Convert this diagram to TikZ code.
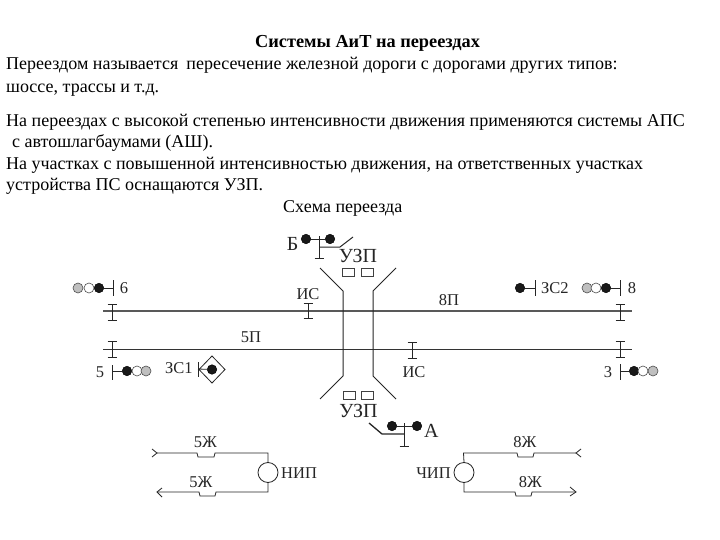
\documentclass[tikz,border=0pt]{standalone}
\usepackage{fontspec}
\setmainfont{Liberation Serif}
\usetikzlibrary{arrows.meta}
\tikzset{
  px/.style={x=1pt,y=-1pt},
  txt/.style={inner sep=0pt,anchor=base west,font=\fontsize{18pt}{20pt}\selectfont,text=black},
  lbl/.style={inner sep=0pt,anchor=base,font=\fontsize{16.5pt}{18pt}\selectfont,text=black!85},
  biglbl/.style={inner sep=0pt,anchor=base,font=\fontsize{20pt}{22pt}\selectfont,text=black!85},
  wire/.style={draw=black!85,line width=0.8pt},
  thick wire/.style={draw=black!85,line width=1pt},
  track/.style={draw=black!65,line width=1.1pt},
  lampk/.style={circle,draw=black,fill=black!90,minimum size=9.5pt,inner sep=0pt,line width=0.5pt},
  lampw/.style={circle,draw=black!70,fill=white,minimum size=10pt,inner sep=0pt,line width=0.6pt},
  lampg/.style={circle,draw=black!70,fill=black!25,minimum size=10pt,inner sep=0pt,line width=0.6pt},
  relayc/.style={circle,draw=black!85,fill=white,minimum size=20pt,inner sep=0pt,line width=0.8pt},
  box/.style={draw=black!75,fill=white,minimum width=12pt,minimum height=8pt,inner sep=0pt,line width=0.7pt},
}
\begin{document}
\begin{tikzpicture}[px]
\useasboundingbox (0,0) rectangle (720,540);
\fill[white] (0,0) rectangle (720,540);
% Title and body text
\node[txt,font=\fontsize{18.3pt}{20pt}\selectfont\bfseries] (t0) at (255,47.5) {Системы АиТ на переездах};
\node[txt] (t1) at (6,70) {Переездом называется\hspace{0.2em} пересечение железной дороги с дорогами других типов:};
\node[txt] (t2) at (6,93) {шоссе, трассы и т.д.};
\node[txt] (t3) at (6,127) {На переездах с высокой степенью интенсивности движения применяются системы АПС};
\node[txt] (t4) at (12,148) {с автошлагбаумами (АШ).};
\node[txt] (t5) at (6,170) {На участках с повышенной интенсивностью движения, на ответственных участках};
\node[txt] (t6) at (6,191) {устройства ПС оснащаются УЗП.};
\node[txt] (t7) at (283,212) {Схема переезда};
% Tracks
\coordinate (tr1a) at (103,311); \coordinate (tr1b) at (632,311);
\coordinate (tr2a) at (103,349); \coordinate (tr2b) at (632,349);
\draw[track] (tr1a) -- (tr1b);
\draw[track,draw=black!80,line width=1pt] (tr2a) -- (tr2b);
% Road
\coordinate (rl1) at (320,268); \coordinate (rl2) at (343,291); \coordinate (rl3) at (343,376); \coordinate (rl4) at (320,399);
\coordinate (rr1) at (396,268); \coordinate (rr2) at (373,291); \coordinate (rr3) at (373,376); \coordinate (rr4) at (396,399);
\draw[thick wire] (rl1) -- (rl2) -- (rl3) -- (rl4);
\draw[thick wire] (rr1) -- (rr2) -- (rr3) -- (rr4);
% insulating joints
\foreach \n/\x/\a/\b in {j1/112/304/320,j2/308/303/318,j3/620/304/320,j4/112/341/357,j5/412/342/358,j6/620/341/357}{
  \coordinate (\n a) at (\x,\a); \coordinate (\n b) at (\x,\b);
  \draw[thick wire] (\n a) -- (\n b);
  \draw[thick wire] ([xshift=-4.5pt]\n a) -- ([xshift=4.5pt]\n a);
  \draw[thick wire] ([xshift=-4.5pt]\n b) -- ([xshift=4.5pt]\n b);
}
% Signal 6
\node[lampg] (s6a) at (78,288) {}; \node[lampw] (s6b) at (89,288) {}; \node[lampk] (s6c) at (99,288) {};
\coordinate (s6m) at (113,288);
\draw[wire] (s6c) -- (s6m); \draw[thick wire] (113,280) -- (113,296);
\node[lbl] (l6) at (124,293) {6};
% Signal 5
\node[lampk] (s5a) at (127,371) {}; \node[lampw] (s5b) at (137,371) {}; \node[lampg] (s5c) at (146,371) {};
\coordinate (s5m) at (112,371);
\draw[wire] (s5m) -- (s5a); \draw[thick wire] (112,365) -- (112,380);
\node[lbl] (l5) at (100,377) {5};
% ZS1
\node[lbl,anchor=base west] (lz1) at (165,373) {ЗС1};
\coordinate (z1m) at (198,369);
\draw[thick wire] (198,362) -- (198,377);
\draw[wire,fill=white] (212,356) -- (225,369.5) -- (212,383) -- (199,369.5) -- cycle;
\node[lampk] (z1) at (212,369.5) {};
\draw[wire] (z1m) -- (z1);
% ZS2
\node[lampk] (s2) at (520,288) {};
\draw[wire] (s2) -- (535,288); \draw[thick wire] (535,280) -- (535,296);
\node[lbl,anchor=base west] (lz2) at (541,293) {ЗС2};
% Signal 8
\node[lampg] (s8a) at (587,288) {}; \node[lampw] (s8b) at (596,288) {}; \node[lampk] (s8c) at (606,288) {};
\draw[wire] (s8c) -- (620,288); \draw[thick wire] (620,280) -- (620,296);
\node[lbl] (l8) at (632,293) {8};
% Signal 3
\node[lampk] (s3a) at (634,371) {}; \node[lampw] (s3b) at (643,371) {}; \node[lampg] (s3c) at (653,371) {};
\draw[wire] (620,371) -- (s3a); \draw[thick wire] (620,364) -- (620,380);
\node[lbl] (l3) at (608,377) {3};
% track labels
\node[lbl] (ic1) at (308,299.5) {ИС};
\node[lbl] (ic2) at (414,377) {ИС};
\node[lbl] (p5) at (251,342) {5П};
\node[lbl] (p8) at (449,305) {8П};
% UZP
\node[biglbl] (uz1) at (358,262) {УЗП};
\node[box] (b1) at (348,272) {}; \node[box] (b2) at (367.5,272) {};
\node[biglbl] (uz2) at (358.5,417) {УЗП};
\node[box] (b3) at (349,395.5) {}; \node[box] (b4) at (367.5,395.5) {};
% Barrier B
\node[biglbl] (lb) at (292.5,250) {Б};
\node[lampk] (bl1) at (306,239) {}; \node[lampk] (bl2) at (330,239) {};
\draw[wire] (bl1) -- (bl2);
\draw[thick wire] (319,236) -- (319,258);
\draw[wire] (314.5,258) -- (323.5,258);
\draw[thick wire] (319,247) -- (340,247) -- (353,237);
% Barrier A
\node[lampk] (al1) at (392,426) {}; \node[lampk] (al2) at (417,426) {};
\draw[wire] (al1) -- (al2);
\draw[thick wire] (404,423) -- (404,446);
\draw[wire] (399.5,446) -- (408.5,446);
\draw[thick wire,line width=1.3pt] (404,434) -- (382,434) -- (369,423);
\node[biglbl,anchor=base west] (la) at (424,437) {А};
% NIP
\node[relayc] (nip) at (268,472.5) {};
\node[lbl,anchor=base west] (lnip) at (281,478) {НИП};
\coordinate (na1) at (157,453); \coordinate (na2) at (157,492);
\draw[wire] (na1) -- (197,453) -- (198,457) -- (214,457) -- (215,453) -- (268,453) -- (nip.north);
\draw[wire] (na2) -- (199,492) -- (200,496) -- (215,496) -- (216,492) -- (268,492) -- (nip.south);
\draw[wire] (152,449) -- (157,453) -- (152,457);
\draw[wire] (162,488) -- (157,492) -- (162,497);
\node[lbl] (zh1) at (205.5,447) {5Ж};
\node[lbl] (zh2) at (201,487) {5Ж};
% CHIP
\node[relayc] (chip) at (464,472.5) {};
\node[lbl,anchor=base east] (lchip) at (451,478) {ЧИП};
\coordinate (ca1) at (576,453); \coordinate (ca2) at (576,492);
\draw[wire] (chip.north) -- (463.5,453) -- (517,453) -- (518,457) -- (533,457) -- (534,453) -- (ca1);
\draw[wire] (chip.south) -- (464,492) -- (515,492) -- (516,496) -- (531,496) -- (532,492) -- (ca2);
\draw[wire] (581,449) -- (576,453) -- (581,457);
\draw[wire] (570,487) -- (576,492) -- (570,496);
\node[lbl] (zh3) at (525,447) {8Ж};
\node[lbl] (zh4) at (530.5,487) {8Ж};
\end{tikzpicture}
\end{document}
